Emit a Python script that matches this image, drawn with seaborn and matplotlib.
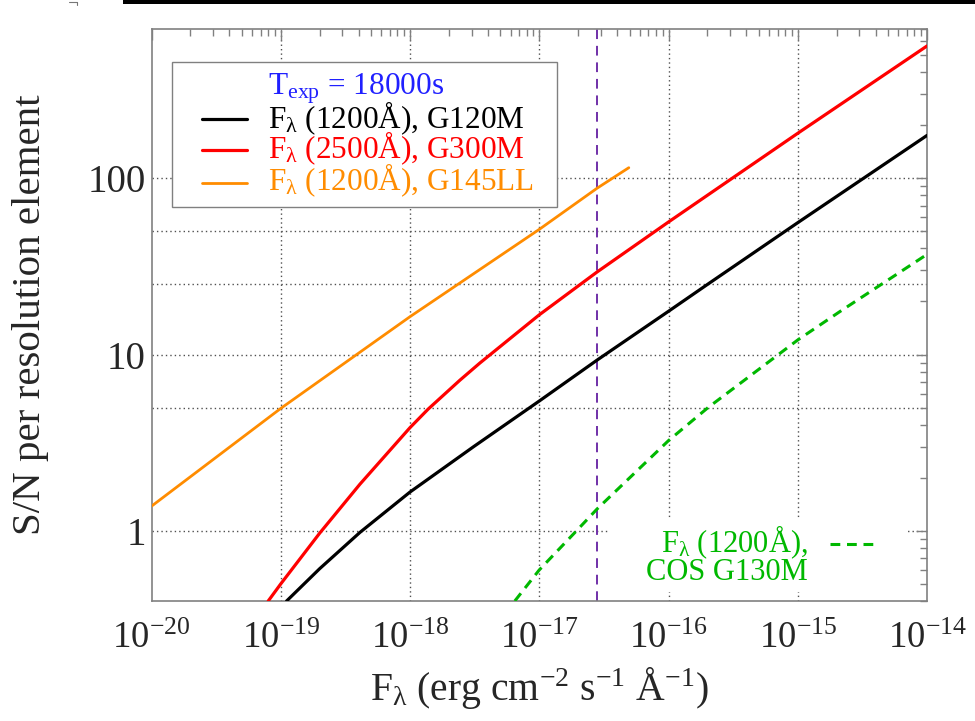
import numpy as np
import pandas as pd
import matplotlib
matplotlib.use("Agg")
import matplotlib.pyplot as plt
import seaborn as sns
from matplotlib.ticker import LogLocator, FuncFormatter, NullFormatter, LogFormatterMathtext
from matplotlib.lines import Line2D
from matplotlib.patches import Rectangle

# ---------------- data ----------------
g120m_flux = [1.11e-19, 2.0e-19, 4.1e-19, 1e-18, 3.1e-18, 1e-17, 2.8e-17, 1e-16, 1.97e-16, 1e-15, 1e-14]
g120m_sn = [0.4, 0.61, 0.98, 1.66, 3.0, 5.45, 9.3, 17.6, 24.8, 56.0, 175.0]

g300m_flux = [8.0e-20, 1e-19, 2.0e-19, 4.1e-19, 1e-18, 1.38e-18, 2.43e-18, 3.47e-18, 1e-17, 2.8e-17, 1e-16, 1e-15, 1e-14]
g300m_sn = [0.4, 0.5, 0.97, 1.84, 3.85, 4.9, 7.15, 8.95, 16.8, 29.4, 56.5, 180.0, 563.0]

g145ll_flux = [1e-20, 1e-19, 1e-18, 1e-17, 2.8e-17, 4.93e-17]
g145ll_sn = [1.38, 4.95, 16.4, 51.3, 87.8, 114.8]

cos_flux = [6.47e-18, 1e-17, 1.94e-17, 2.8e-17, 1e-16, 2.02e-16, 1e-15, 2.11e-15, 1e-14]
cos_sn = [0.4, 0.6, 1.0, 1.33, 3.25, 5.0, 12.1, 17.5, 37.0]

marker_flux = 2.8e-17

x_decades = [1e-20, 1e-19, 1e-18, 1e-17, 1e-16, 1e-15, 1e-14]
y_decades = [1, 10, 100]

legend_title = r"T$_{\mathrm{exp}}$ = 18000s"
legend_labels = [r"F$_{\mathrm{λ}}$ (1200Å), G120M",
                 r"F$_{\mathrm{λ}}$ (2500Å), G300M",
                 r"F$_{\mathrm{λ}}$ (1200Å), G145LL"]
cos_lines = [r"F$_{\mathrm{λ}}$ (1200Å),", "COS G130M"]

# ---------------- style ----------------
sns.set_theme(style="white")
plt.rcParams["font.family"] = ["Liberation Serif", "DejaVu Serif"]
plt.rcParams["mathtext.fontset"] = "custom"
plt.rcParams["mathtext.rm"] = "Liberation Serif"
plt.rcParams["mathtext.it"] = "Liberation Serif:italic"
plt.rcParams["mathtext.bf"] = "Liberation Serif:bold"
plt.rcParams["axes.unicode_minus"] = True

BLACK = "#000000"
RED = "#FF0000"
ORANGE = "#FF8C00"
GREEN = "#00B800"
PURPLE = "#7030A8"
BLUE = "#2020FF"
GRAY = "#808080"

W, H = 975, 721
AX_L, AX_R, AX_T, AX_B = 151.5, 927.0, 29.3, 601.0


def af(px, py):
    """pixel position in the image -> axes fraction"""
    return ((px - AX_L) / (AX_R - AX_L), (AX_B - py) / (AX_B - AX_T))


fig = plt.figure(figsize=(W / 100, H / 100), dpi=100)
ax = fig.add_axes([AX_L / W, 1 - AX_B / H, (AX_R - AX_L) / W, (AX_B - AX_T) / H])
ax.set_xscale("log")
ax.set_yscale("log")

# grid (dotted)
grid_kw = dict(color="#505050", lw=1.0, linestyle=(0, (1, 2.2)), zorder=0.5)
for gx in [1e-19, 1e-18, 1e-17, 1e-16, 1e-15]:
    ax.axvline(gx, **grid_kw)
for gy in [1, 5, 10, 25, 50, 100]:
    ax.axhline(gy, **grid_kw)

# white label box bottom-right
x0, y0 = af(610, 592)
x1, y1 = af(908, 520)
ax.add_patch(Rectangle((x0, y0), x1 - x0, y1 - y0, transform=ax.transAxes,
                       facecolor="white", edgecolor="none", zorder=1))

# curves
df1 = pd.DataFrame({"flux": g120m_flux, "sn": g120m_sn})
df2 = pd.DataFrame({"flux": g300m_flux, "sn": g300m_sn})
df3 = pd.DataFrame({"flux": g145ll_flux, "sn": g145ll_sn})
df4 = pd.DataFrame({"flux": cos_flux, "sn": cos_sn})

sns.lineplot(data=df3, x="flux", y="sn", ax=ax, color=ORANGE, linewidth=2.0, errorbar=None, zorder=3)
sns.lineplot(data=df2, x="flux", y="sn", ax=ax, color=RED, linewidth=2.3, errorbar=None, zorder=3)
sns.lineplot(data=df1, x="flux", y="sn", ax=ax, color=BLACK, linewidth=2.3, errorbar=None, zorder=3)
sns.lineplot(data=df4, x="flux", y="sn", ax=ax, color=GREEN, linewidth=2.2, errorbar=None,
             linestyle=(0, (3.2, 2.2)), zorder=3)

ax.axvline(marker_flux, color=PURPLE, lw=1.4, linestyle=(0, (5, 3.5)), zorder=2)

# ticks
ax.set_xticks(x_decades)
ax.xaxis.set_minor_locator(LogLocator(base=10, subs=np.arange(2, 10), numticks=20))
ax.xaxis.set_major_formatter(LogFormatterMathtext())
ax.xaxis.set_minor_formatter(NullFormatter())
ax.set_yticks(y_decades)
ax.yaxis.set_minor_locator(LogLocator(base=10, subs=np.arange(2, 10), numticks=20))
ax.yaxis.set_major_formatter(FuncFormatter(lambda v, p: f"{v:g}"))
ax.yaxis.set_minor_formatter(NullFormatter())
ax.set_xlim(1e-20, 1e-14)
ax.set_ylim(0.4, 700)
ax.tick_params(which="both", direction="in", top=True, right=True, color=GRAY, width=1.0)
ax.tick_params(which="major", length=8)
ax.tick_params(which="minor", length=5)
ax.tick_params(axis="x", labelsize=26.5, pad=15)
ax.tick_params(axis="y", labelsize=28, pad=4)
for s in ax.spines.values():
    s.set_color(GRAY)
    s.set_linewidth(1.2)

ax.set_xlabel(r"F$_{\mathrm{λ}}$ (erg cm$^{-2}$ s$^{-1}$ Å$^{-1}$)", fontsize=28.5, labelpad=6)
ax.set_ylabel("S/N per resolution element", fontsize=29.5, labelpad=28)

# legend (drawn by hand so that it matches the reference layout)
lx0, ly0 = af(172, 207)
lx1, ly1 = af(557, 62)
ax.add_patch(Rectangle((lx0, ly0), lx1 - lx0, ly1 - ly0, transform=ax.transAxes,
                       facecolor="white", edgecolor=GRAY, lw=1.0, zorder=5, clip_on=False))
tx, ty = af(268, 95)
ax.text(tx, ty, legend_title, transform=ax.transAxes, color=BLUE, fontsize=22.5,
        ha="left", va="baseline", zorder=6)
legend_colors = [BLACK, RED, ORANGE]
legend_widths = [2.3, 2.3, 2.0]
handle_y = [119.3, 150.0, 182.7]
text_base = [128.3, 158.6, 190.5]
for lab, col, lw_, hy, tb in zip(legend_labels, legend_colors, legend_widths, handle_y, text_base):
    hx0, hy0 = af(202, hy)
    hx1, _ = af(247, hy)
    ax.add_line(Line2D([hx0, hx1], [hy0, hy0], transform=ax.transAxes, color=col, lw=lw_,
                       zorder=6, clip_on=False))
    px, py = af(268, tb)
    ax.text(px, py, lab, transform=ax.transAxes, color=col, fontsize=22.5,
            ha="left", va="baseline", zorder=6)

# COS label
for line, base in zip(cos_lines, [552.0, 580.5]):
    px, py = af(808, base)
    ax.text(px, py, line, transform=ax.transAxes, ha="right", va="baseline",
            fontsize=22, color=GREEN, zorder=4)
sx0, sy = af(830, 544)
sx1, _ = af(875, 544)
ax.add_line(Line2D([sx0, sx1], [sy, sy], transform=ax.transAxes, color=GREEN,
                   lw=2.2, linestyle=(0, (3.2, 2.2)), zorder=4))

# artefacts at the top of the image
fig.patches.append(Rectangle((123 / W, 1 - 4 / H), 1 - 123 / W, 4 / H,
                             transform=fig.transFigure, facecolor="black", edgecolor="none"))
fig.lines.append(Line2D([69 / W, 77 / W], [1 - 2 / H, 1 - 2 / H], transform=fig.transFigure,
                        color="#777777", lw=0.8))
fig.lines.append(Line2D([76.5 / W, 76.5 / W], [1 - 2 / H, 1 - 5 / H], transform=fig.transFigure,
                        color="#777777", lw=0.8))

fig.savefig("out.png", dpi=100)
